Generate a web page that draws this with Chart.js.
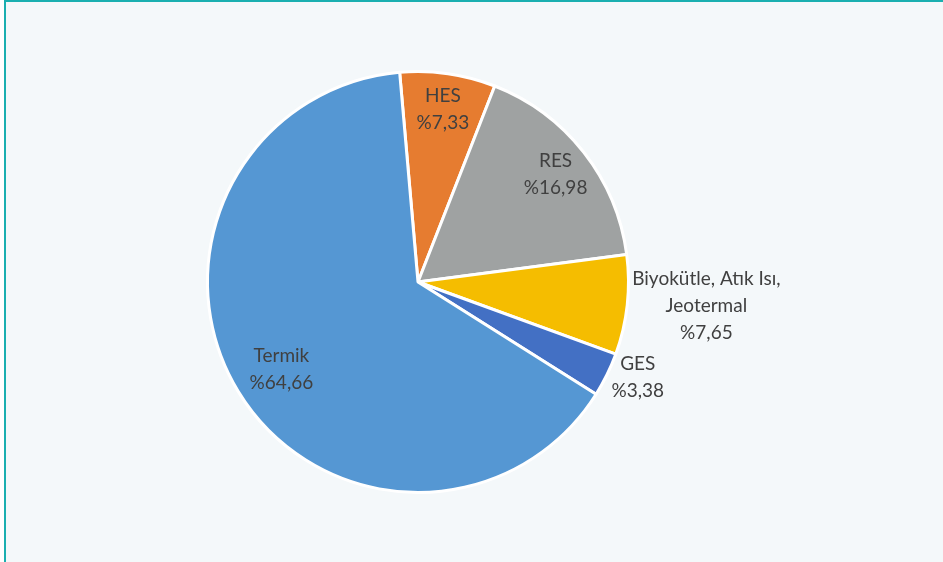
<!DOCTYPE html>
<html>
<head>
<meta charset="utf-8">
<script src="https://cdn.jsdelivr.net/npm/chart.js@4.4.1/dist/chart.umd.min.js"></script>
<style>
  html, body { margin: 0; padding: 0; background: #ffffff; }
  .cadre {
    position: absolute; left: 4px; top: 0; width: 939px; height: 562px;
    background: #f4f8fa;
    border-left: 2px solid #1aafb0;
    border-top: 2px solid #1aafb0;
    box-sizing: border-box;
  }
  #graph { position: absolute; left: 0; top: 0; }
</style>
</head>
<body>
<div class="cadre"></div>
<canvas id="graph" width="943" height="562"></canvas>
<script>
// donnees du graphique (parts de production, %)
var categories = ["HES", "RES", "Biyokütle, Atık Isı, Jeotermal", "GES", "Termik"];
var lignes = [["HES"], ["RES"], ["Biyokütle, Atık Isı,", "Jeotermal"], ["GES"], ["Termik"]];
var valeurs = [7.33, 16.98, 7.65, 3.38, 64.66];
var textes = ["%7,33", "%16,98", "%7,65", "%3,38", "%64,66"];
var couleurs = ["#e67c30", "#9fa2a2", "#f5bd00", "#4370c4", "#5597d3"];
// label dedans (true) ou dehors (false)
var dedans = [true, true, false, false, true];

// plugin pour ecrire les etiquettes
var etiquettes = {
  id: "etiquettes",
  afterDatasetsDraw: function(chart) {
    var ctx = chart.ctx;
    var meta = chart.getDatasetMeta(0);
    ctx.save();
    ctx.font = "19px Lato";
    ctx.fillStyle = "#404040";
    ctx.textAlign = "center";
    ctx.textBaseline = "middle";
    var hl = 27;
    for (var i = 0; i < meta.data.length; i++) {
      var arc = meta.data[i];
      var milieu = (arc.startAngle + arc.endAngle) / 2;
      var txt = lignes[i].concat([textes[i]]);
      var larg = 0;
      for (var k = 0; k < txt.length; k++) {
        larg = Math.max(larg, ctx.measureText(txt[k]).width);
      }
      var cx, cy;
      if (dedans[i]) {
        var rr = arc.outerRadius * (i == 4 ? 0.76 : 0.83);
        cx = arc.x + Math.cos(milieu) * rr;
        cy = arc.y + Math.sin(milieu) * rr + (i == 4 ? 4 : 0);
      } else {
        var ro = arc.outerRadius + 5;
        cx = arc.x + Math.cos(milieu) * ro + larg / 2;
        cy = arc.y + Math.sin(milieu) * ro;
      }
      var y0 = cy - (txt.length - 1) * hl / 2;
      for (var k = 0; k < txt.length; k++) {
        ctx.fillText(txt[k], cx, y0 + k * hl);
      }
    }
    ctx.restore();
  }
};

var ctx = document.getElementById("graph");
var myChart = new Chart(ctx, {
  type: "pie",
  data: {
    labels: categories,
    datasets: [{
      data: valeurs,
      backgroundColor: couleurs,
      borderColor: "#ffffff",
      borderWidth: 3
    }]
  },
  options: {
    responsive: false,
    animation: false,
    rotation: -5,
    layout: { padding: { top: 70, bottom: 68, left: 0, right: 107 } },
    plugins: {
      legend: { display: false },
      tooltip: { enabled: false }
    }
  },
  plugins: [etiquettes]
});
</script>
</body>
</html>
